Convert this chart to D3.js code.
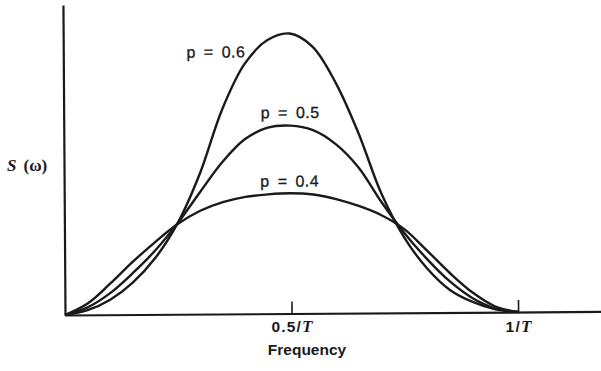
<!DOCTYPE html>
<html>
<head>
<meta charset="utf-8">
<script src="https://cdn.jsdelivr.net/npm/d3@7"></script>
<style>
  html, body { margin: 0; padding: 0; background: #fff; }
  svg { display: block; }
</style>
</head>
<body>
<svg id="chart" width="601" height="371"></svg>
<script>
// Frequency grid, in units of 1/T
const freq = [0, 0.05, 0.1, 0.15, 0.2, 0.25, 0.3, 0.35, 0.4, 0.45, 0.5,
              0.55, 0.6, 0.65, 0.7, 0.75, 0.8, 0.85, 0.9, 0.95, 1];

// Spectral density S(ω) for each value of p
const sP06 = [0, 0.05, 0.16, 0.34, 0.60, 0.97, 1.50, 2.18, 2.66, 2.91, 2.98,
              2.84, 2.46, 1.92, 1.27, 0.80, 0.47, 0.24, 0.11, 0.03, 0];
const sP05 = [0, 0.08, 0.23, 0.44, 0.68, 0.97, 1.30, 1.62, 1.86, 1.98, 2.00,
              1.95, 1.80, 1.55, 1.18, 0.85, 0.57, 0.33, 0.15, 0.04, 0];
const sP04 = [0, 0.12, 0.33, 0.56, 0.77, 0.96, 1.10, 1.19, 1.245, 1.27, 1.28,
              1.265, 1.215, 1.14, 1.04, 0.89, 0.66, 0.42, 0.21, 0.06, 0];

const seriesNames = ["p = 0.6", "p = 0.5", "p = 0.4"];
// label anchor positions (frequency, S value at text baseline)
const labelFreq = [0.272, 0.435, 0.433];
const labelS = [2.73, 2.08, 1.35];

const tickValues = [0.5, 1];
const tickNumer = ["0.5/", "1/"];
const tickVar = ["T", "T"];
const xTitle = "Frequency";

const svg = d3.select("#chart");
const x = d3.scaleLinear().domain([0, 1.183]).range([65, 601]);
const y = d3.scaleLinear().domain([0, 3.3]).range([315, 5]);

// whole plot sits on a very slight tilt
const plot = svg.append("g").attr("transform", "rotate(-0.38, 65, 315)");

const ink = "#1a1a1a";

// x axis with upward ticks
const xAxis = d3.axisBottom(x)
  .tickValues(tickValues)
  .tickSizeInner(-12)
  .tickSizeOuter(0)
  .tickFormat(() => "");
const gx = plot.append("g")
  .attr("transform", `translate(0,${y(0)})`)
  .call(xAxis);
gx.select(".domain").attr("stroke", ink).attr("stroke-width", 2.2);
gx.selectAll(".tick line").attr("stroke", ink).attr("stroke-width", 1.6);

// y axis, no ticks
const yAxis = d3.axisLeft(y).tickValues([]).tickSizeOuter(0);
const gy = plot.append("g")
  .attr("transform", `translate(${x(0)},0)`)
  .call(yAxis);
gy.select(".domain").attr("stroke", ink).attr("stroke-width", 2.2);

// curves
const line = d3.line()
  .x((d, i) => x(freq[i]))
  .y(d => y(d))
  .curve(d3.curveCatmullRom.alpha(0.5));

[sP06, sP05, sP04].forEach(s => {
  plot.append("path")
    .attr("d", line(s))
    .attr("fill", "none")
    .attr("stroke", ink)
    .attr("stroke-width", 2.4)
    .attr("stroke-linejoin", "round");
});

// curve labels
seriesNames.forEach((name, i) => {
  plot.append("text")
    .attr("x", x(labelFreq[i]))
    .attr("y", y(labelS[i]))
    .attr("font-family", "Liberation Sans, Arial, sans-serif")
    .attr("font-size", 16)
    .attr("word-spacing", 3)
    .attr("letter-spacing", 0.5)
    .attr("fill", ink)
    .attr("stroke", ink)
    .attr("stroke-width", 0.3)
    .text(name);
});

// tick labels: "0.5/T", "1/T"
tickValues.forEach((v, i) => {
  const t = svg.append("text")
    .attr("x", x(v) + 1)
    .attr("y", 332)
    .attr("text-anchor", "middle")
    .attr("letter-spacing", 1.2)
    .attr("fill", ink);
  t.append("tspan")
    .attr("font-family", "Liberation Sans, Arial, sans-serif")
    .attr("font-weight", "bold")
    .attr("font-size", 15.5)
    .text(tickNumer[i]);
  t.append("tspan")
    .attr("font-family", "Liberation Serif, Times New Roman, serif")
    .attr("font-style", "italic")
    .attr("font-weight", "bold")
    .attr("font-size", 17)
    .text(tickVar[i]);
});

// x title
svg.append("text")
  .attr("x", 307)
  .attr("y", 355)
  .attr("text-anchor", "middle")
  .attr("font-family", "Liberation Sans, Arial, sans-serif")
  .attr("font-weight", "bold")
  .attr("font-size", 15.5)
  .attr("fill", ink)
  .text(xTitle);

// y title: S (ω)
const yt = svg.append("text")
  .attr("x", 7)
  .attr("y", 171)
  .attr("fill", ink)
  .attr("font-family", "Liberation Serif, Times New Roman, serif")
  .attr("font-size", 17);
yt.append("tspan").attr("font-style", "italic").attr("font-weight", "bold").text("S");
yt.append("tspan").attr("dx", 7).attr("font-weight", "bold").text("(ω)");
</script>
</body>
</html>
